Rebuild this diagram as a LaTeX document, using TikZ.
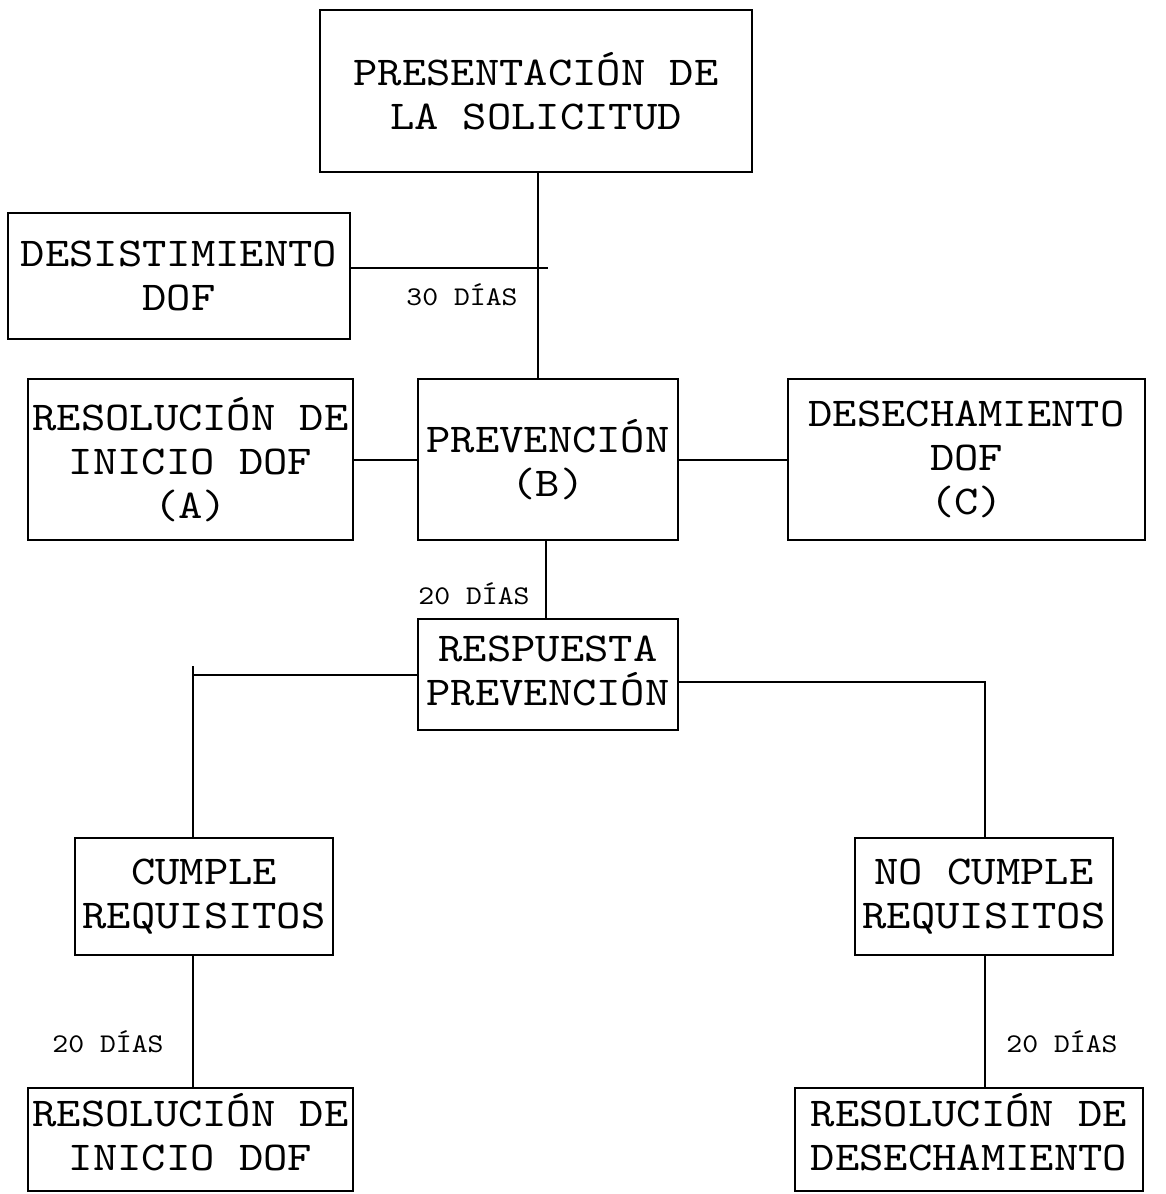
\documentclass[tikz,border=0pt]{standalone}
\usepackage{fontspec}
% slab-serif typewriter face, widened to typewriter proportions
\newfontfamily\boxfont{lmmono10-regular}[Extension=.otf,FakeStretch=1.13]
\newfontfamily\dayfont{lmmono10-regular}[Extension=.otf,FakeStretch=1.12]
\begin{document}
\begin{tikzpicture}[x=1pt,y=-1pt,
  box/.style={draw,line width=2.4pt,inner sep=0pt,align=center,
    font=\boxfont\fontsize{41}{44}\selectfont},
  link/.style={line width=2pt},
  days/.style={font=\dayfont\fontsize{27}{28}\selectfont,inner sep=0pt}]
\useasboundingbox (0,0) rectangle (1165,1194);
% boxes
\node[box,minimum width=432pt,minimum height=162pt] (pres) at (536,91) {PRESENTACIÓN DE\\LA SOLICITUD};
\node[box,minimum width=342pt,minimum height=126pt] (desist) at (179,276) {DESISTIMIENTO\\DOF};
\node[box,minimum width=325pt,minimum height=161pt] (resA) at (190.5,459.5) {RESOLUCIÓN DE\\INICIO DOF\\(A)};
\node[box,minimum width=260pt,minimum height=161pt] (prev) at (548,459.5) {PREVENCIÓN\\(B)};
\node[box,minimum width=357pt,minimum height=161pt] (desC) at (966.5,459.5) {DESECHAMIENTO\\DOF\\(C)};
\node[box,minimum width=260pt,minimum height=111pt,text depth=7pt] (resp) at (548,674.5) {RESPUESTA\\PREVENCIÓN};
\node[box,minimum width=258pt,minimum height=117pt] (cumple) at (204,896.5) {CUMPLE\\REQUISITOS};
\node[box,minimum width=258pt,minimum height=117pt] (nocumple) at (984,896.5) {NO CUMPLE\\REQUISITOS};
\node[box,minimum width=325pt,minimum height=103pt,text depth=16pt] (resL) at (190.5,1139.5) {RESOLUCIÓN DE\\INICIO DOF};
\node[box,minimum width=348pt,minimum height=103pt,text depth=16pt] (resR) at (969,1139.5) {RESOLUCIÓN DE\\DESECHAMIENTO};
% junction points
\coordinate (dj) at (548,268);
\coordinate (lc) at (193,666);
\coordinate (rc) at (985,682);
% connectors
\draw[link] (pres.south -| 538,0) -- (prev.north -| 538,0);
\draw[link] (desist.east |- dj) -- (dj);
\draw[link] (resA.east) -- (prev.west);
\draw[link] (prev.east) -- (desC.west);
\draw[link] (prev.south -| 546,0) -- (resp.north -| 546,0);
\draw[link] (resp.west |- 0,675) -- (lc |- 0,675);
\draw[link] (lc) -- (lc |- cumple.north);
\draw[link] (resp.east |- rc) -- (rc) -- (rc |- nocumple.north);
\draw[link] (lc |- cumple.south) -- (lc |- resL.north);
\draw[link] (rc |- nocumple.south) -- (rc |- resR.north);
% time labels
\node[days] (t30) at (462,295) {30 DÍAS};
\node[days] (t20a) at (474,594) {20 DÍAS};
\node[days] (t20b) at (108,1042) {20 DÍAS};
\node[days] (t20c) at (1062,1042) {20 DÍAS};
\end{tikzpicture}
\end{document}
